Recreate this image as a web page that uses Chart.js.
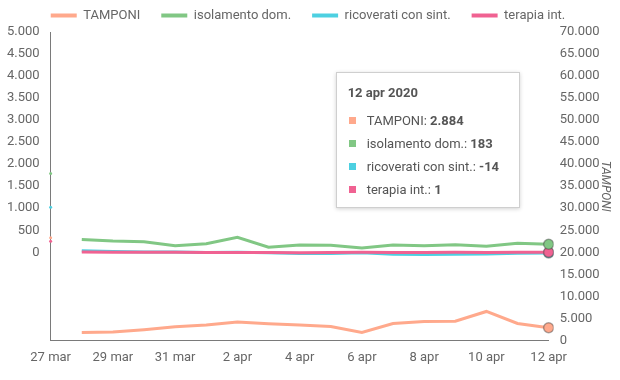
<!DOCTYPE html>
<html>
<head>
<meta charset="utf-8">
<script src="https://cdn.jsdelivr.net/npm/chart.js@4.4.1/dist/chart.umd.min.js"></script>
<style>
  html, body { margin: 0; padding: 0; background: #fff; }
  #wrap { position: relative; width: 620px; height: 380px; }
  #tip {
    position: absolute; display: none; box-sizing: border-box; width: 184px;
    background: #fff; border: 1px solid #cfcfcf; box-shadow: 0 1px 4px rgba(0,0,0,0.18);
    padding: 11px 11px 6px 11px; font-family: Roboto, sans-serif; font-size: 13px; color: #555;
    pointer-events: none; white-space: nowrap;
  }
  #tip .t { font-weight: bold; line-height: 18px; margin-bottom: 7px; }
  #tip .r { line-height: 23px; }
  #tip .sw { display: inline-block; width: 7px; height: 7px; margin: 0 11px 1px 1px; }
</style>
</head>
<body>
<div id="wrap"><canvas id="chart"></canvas><div id="tip"></div></div>
<script>
(function() {
  "use strict";

  // ===== Data =====
  var days = ["27 mar", "28 mar", "29 mar", "30 mar", "31 mar", "1 apr", "2 apr", "3 apr", "4 apr",
              "5 apr", "6 apr", "7 apr", "8 apr", "9 apr", "10 apr", "11 apr", "12 apr"];
  var year = "2020";
  var tamponi    = [23300, 1810, 1880, 2420, 3100, 3470, 4150, 3780, 3470, 3170, 1810, 3850, 4300, 4370, 6570, 3850, 2884];
  var isolamento = [1790, 290, 255, 240, 150, 195, 340, 115, 165, 160, 100, 165, 150, 172, 138, 205, 183];
  var ricoverati = [1020, 36, 18, 9, 6, -4, 2, -12, -25, -28, -8, -42, -48, -45, -40, -22, -14];
  var terapia    = [250, 4, -2, 3, 1, -3, -6, -4, -8, -5, 2, -3, -6, -2, -4, -1, 1];

  var COLORS = {
    tamponi: "#ffa98c",
    isolamento: "#81c784",
    ricoverati: "#4dd0e1",
    terapia: "#f06292"
  };
  var FONT = "Roboto, sans-serif";
  var TEXT = "#666";

  // ===== Helpers =====
  function fmt(n) {
    var s = Math.abs(Math.round(n)).toString().replace(/\B(?=(\d{3})+(?!\d))/g, ".");
    return (n < 0 ? "-" : "") + s;
  }

  function makeDataset(label, data, color, axis, order) {
    return {
      label: label,
      data: data,
      yAxisID: axis,
      order: order,
      borderColor: color,
      backgroundColor: color,
      borderWidth: 3,
      fill: false,
      tension: 0,
      pointRadius: function(ctx) { return ctx.dataIndex === 0 ? 1.5 : 0; },
      pointBorderWidth: 0,
      pointHoverRadius: 5,
      pointHoverBorderWidth: 1.5,
      pointHoverBackgroundColor: color,
      pointHoverBorderColor: "rgba(70,70,70,0.45)",
      segment: {
        // first value is a running total; no segment to the next day
        borderColor: function(ctx) { return ctx.p0DataIndex === 0 ? "rgba(0,0,0,0)" : undefined; }
      }
    };
  }

  // ===== External tooltip =====
  function externalTooltip(context) {
    var tip = document.getElementById("tip");
    var model = context.tooltip;
    if (!model || model.opacity === 0 || !model.dataPoints || !model.dataPoints.length) {
      tip.style.display = "none";
      return;
    }
    var points = model.dataPoints.slice().sort(function(a, b) { return a.datasetIndex - b.datasetIndex; });
    var html = '<div class="t">' + points[0].label + " " + year + "</div>";
    points.forEach(function(p) {
      html += '<div class="r"><span class="sw" style="background:' + p.dataset.borderColor + '"></span>' +
        p.dataset.label + ": <b>" + fmt(p.raw) + "</b></div>";
    });
    tip.innerHTML = html;
    tip.style.display = "block";
    var area = context.chart.chartArea;
    tip.style.left = (model.caretX - 29 - tip.offsetWidth) + "px";
    tip.style.top = (area.top + 40) + "px";
  }

  // ===== Chart =====
  var chart = new Chart(document.getElementById("chart"), {
    type: "line",
    data: {
      labels: days,
      datasets: [
        makeDataset("TAMPONI", tamponi, COLORS.tamponi, "y2", 0),
        makeDataset("isolamento dom.", isolamento, COLORS.isolamento, "y", 1),
        makeDataset("ricoverati con sint.", ricoverati, COLORS.ricoverati, "y", 3),
        makeDataset("terapia int.", terapia, COLORS.terapia, "y", 2)
      ]
    },
    options: {
      responsive: true,
      maintainAspectRatio: false,
      animation: false,
      interaction: { mode: "index", intersect: false },
      layout: { padding: { top: -12, left: -4, right: 0, bottom: 4 } },
      scales: {
        x: {
          type: "category",
          offset: false,
          grid: { display: false, drawTicks: false },
          border: { display: true, color: "#7a7a7a", width: 1 },
          ticks: {
            color: TEXT,
            font: { family: FONT, size: 13 },
            padding: 10,
            maxRotation: 0,
            autoSkip: false,
            callback: function(value, index) {
              return index % 2 === 0 ? this.getLabelForValue(value) : "";
            }
          }
        },
        y: {
          position: "left",
          min: -2000,
          max: 5000,
          grid: { display: false, drawTicks: false },
          border: { display: true, color: "#7a7a7a", width: 1 },
          ticks: {
            stepSize: 500,
            color: TEXT,
            font: { family: FONT, size: 13 },
            padding: 11,
            callback: function(value) { return value < 0 ? "" : fmt(value); }
          }
        },
        y2: {
          position: "right",
          min: 0,
          max: 70000,
          grid: { display: false, drawTicks: false },
          border: { display: false },
          title: {
            display: true,
            text: "TAMPONI",
            color: TEXT,
            padding: { top: 8, bottom: -13 },
            font: { family: FONT, size: 12, style: "italic" }
          },
          ticks: {
            stepSize: 5000,
            color: TEXT,
            font: { family: FONT, size: 13 },
            padding: 11,
            callback: function(value) { return fmt(value); }
          }
        }
      },
      plugins: {
        legend: {
          position: "top",
          labels: {
            color: TEXT,
            font: { family: FONT, size: 13 },
            boxWidth: 26,
            boxHeight: 4,
            padding: 21,
            sort: function(a, b) { return a.datasetIndex - b.datasetIndex; },
            generateLabels: function(c) {
              var items = Chart.defaults.plugins.legend.labels.generateLabels(c);
              items.forEach(function(it) { it.lineWidth = 0; it.fillStyle = it.strokeStyle; });
              return items;
            }
          }
        },
        tooltip: {
          enabled: false,
          external: externalTooltip
        }
      }
    }
  });

  // ===== Show the hovered state on the last day =====
  var lastIdx = days.length - 1;
  var active = chart.data.datasets.map(function(ds, i) { return { datasetIndex: i, index: lastIdx }; });
  var pt = chart.getDatasetMeta(0).data[lastIdx];
  chart.tooltip.setActiveElements(active, { x: pt.x, y: pt.y });
  chart.setActiveElements(active);
  chart.update();
})();
</script>
</body>
</html>
